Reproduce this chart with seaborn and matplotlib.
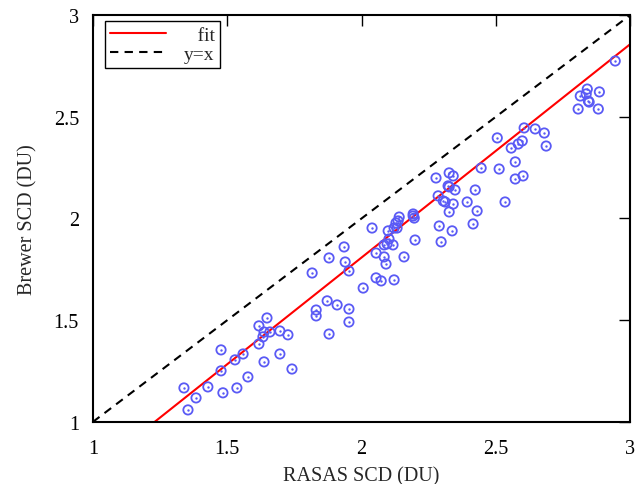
import numpy as np
import pandas as pd
import matplotlib
matplotlib.use("Agg")
import matplotlib.pyplot as plt
import seaborn as sns

# RASAS vs Brewer slant column densities (DU)
rasas = [1.339, 1.354, 1.384, 1.428, 1.477, 1.477, 1.484, 1.529, 1.536, 1.559,
         1.577, 1.618, 1.648, 1.637, 1.633, 1.659, 1.618, 1.696, 1.726, 1.637,
         1.696, 1.741, 1.879, 1.831, 1.831, 1.872, 1.909, 1.953, 1.953, 2.006,
         1.816, 1.879, 1.935, 1.939, 1.953, 2.054, 2.073, 2.121, 2.054, 2.084,
         2.091, 2.158, 2.039, 2.099, 2.084, 2.095, 2.102, 2.117, 2.121, 2.132,
         2.128, 2.136, 2.140, 2.192, 2.192, 2.196, 2.199, 2.277, 2.326, 2.341,
         2.322, 2.326, 2.348, 2.285, 2.304, 2.311, 2.341, 2.326, 2.289, 2.296,
         2.337, 2.393, 2.423, 2.430, 2.415, 2.445, 2.505, 2.512, 2.534, 2.557,
         2.583, 2.598, 2.605, 2.572, 2.572, 2.601, 2.646, 2.680, 2.687, 2.806,
         2.814, 2.836, 2.840, 2.844, 2.847, 2.885, 2.881, 2.944]
brewer = [1.167, 1.059, 1.118, 1.172, 1.354, 1.251, 1.143, 1.305, 1.167, 1.334,
          1.221, 1.472, 1.511, 1.442, 1.418, 1.442, 1.383, 1.447, 1.428, 1.295,
          1.334, 1.260, 1.432, 1.550, 1.521, 1.595, 1.575, 1.555, 1.491, 1.658,
          1.732, 1.806, 1.860, 1.786, 1.742, 1.708, 1.693, 1.698, 1.830, 1.811,
          1.776, 1.811, 1.953, 1.939, 1.870, 1.875, 1.899, 1.870, 1.953, 1.953,
          1.978, 1.988, 2.007, 2.022, 2.012, 2.002, 1.894, 2.199, 2.224, 2.209,
          2.160, 2.155, 2.140, 2.111, 2.086, 2.081, 2.071, 2.032, 1.963, 1.885,
          1.939, 2.081, 2.140, 2.037, 1.973, 2.248, 2.396, 2.243, 2.081, 2.346,
          2.366, 2.381, 2.445, 2.278, 2.194, 2.209, 2.440, 2.420, 2.356, 2.538,
          2.602, 2.612, 2.636, 2.577, 2.572, 2.622, 2.538, 2.774]

# linear fit shown in the figure
fit_slope = 1.049
fit_intercept = -0.29

line_x = [1.0, 3.0]
ticks = [1, 1.5, 2, 2.5, 3]
tick_labels = ["1", "1.5", "2", "2.5", "3"]

sns.set_style("white")
plt.rcParams['font.family'] = ['Liberation Serif', 'DejaVu Serif']

df = pd.DataFrame({'rasas': rasas, 'brewer': brewer})
lines = pd.DataFrame({
    'x': line_x * 2,
    'y': [fit_slope * v + fit_intercept for v in line_x] + line_x,
    'kind': ['fit'] * 2 + ['y=x'] * 2,
})

fig = plt.figure(figsize=(6.36, 4.85), dpi=100)
ax = fig.add_axes([0.146, 0.128, 0.845, 0.839])

pt_color = '#5a5af5'
sns.scatterplot(data=df, x='rasas', y='brewer', ax=ax, marker='o', s=45,
                facecolor='none', edgecolor=pt_color, linewidth=1.3, zorder=3)
sns.scatterplot(data=df, x='rasas', y='brewer', ax=ax, marker='o', s=3,
                color=pt_color, linewidth=0, zorder=3)

# labels padded so they line up on the right like the original key
sns.lineplot(data=lines[lines.kind == 'fit'], x='x', y='y', ax=ax,
             color='red', linewidth=1.5, label='   fit', zorder=2)
sns.lineplot(data=lines[lines.kind == 'y=x'], x='x', y='y', ax=ax,
             color='black', linewidth=1.5, label='y=x', zorder=2)
ax.lines[-1].set_linestyle((0, (4, 3)))

ax.set_xlim(1, 3)
ax.set_ylim(1, 3)
ax.set_xticks(ticks)
ax.set_xticklabels(tick_labels)
ax.set_yticks(ticks)
ax.set_yticklabels(tick_labels)
ax.tick_params(direction='in', length=8, width=1, top=True, right=True,
               labelsize=14.5, pad=12, colors='black')
ax.tick_params(axis='y', pad=10)
for sp in ax.spines.values():
    sp.set_visible(True)
    sp.set_color('black')
    sp.set_linewidth(1.5)

ax.set_xlabel('RASAS SCD (DU)', fontsize=14.5, labelpad=6)
ax.set_ylabel('Brewer SCD (DU)', fontsize=14.5, labelpad=12)

leg = ax.legend(loc='upper left', bbox_to_anchor=(0.022, 0.985), fontsize=14,
                frameon=True, fancybox=False, edgecolor='black',
                handlelength=2.9, handletextpad=0.9, borderpad=0.25,
                labelspacing=0.1, borderaxespad=0.0)
leg.get_frame().set_linewidth(1.0)
leg.get_frame().set_alpha(1)

fig.savefig('out.png', dpi=100)
